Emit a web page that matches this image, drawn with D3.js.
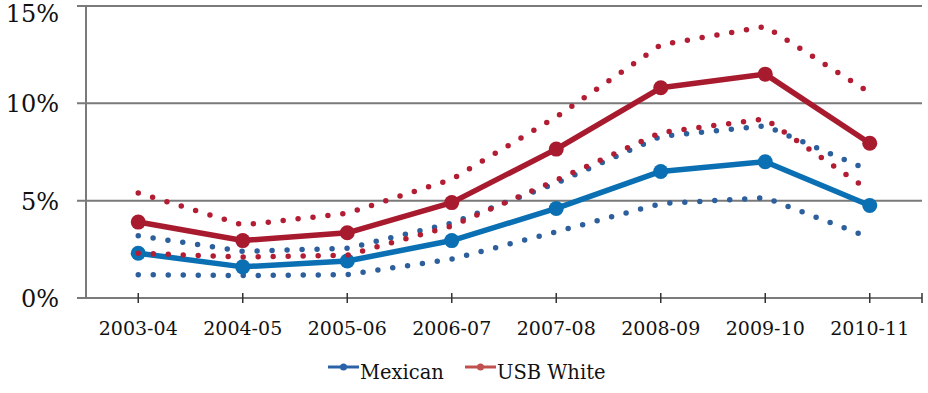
<!DOCTYPE html>
<html>
<head>
<meta charset="utf-8">
<script src="https://cdn.jsdelivr.net/npm/d3@7"></script>
<style>
  html, body { margin: 0; padding: 0; background: #fff; }
  svg { display: block; }
</style>
</head>
<body>
<svg id="chart" width="928" height="393"></svg>
<script>
// School years on the x axis
const years = ["2003-04", "2004-05", "2005-06", "2006-07", "2007-08", "2008-09", "2009-10", "2010-11"];

// Point estimates (percent)
const mexican   = [2.3, 1.6, 1.9, 2.95, 4.6, 6.5, 7.0, 4.75];
const usbWhite  = [3.9, 2.95, 3.35, 4.9, 7.65, 10.8, 11.5, 7.95];

// Confidence bounds (percent)
const mexicanHigh  = [3.2, 2.4, 2.55, 3.85, 5.9, 8.3, 8.85, 6.55];
const mexicanLow   = [1.2, 1.15, 1.2, 2.0, 3.4, 4.85, 5.15, 3.1];
const usbWhiteHigh = [5.4, 3.75, 4.35, 6.1, 9.3, 13.0, 13.95, 10.55];
const usbWhiteLow  = [2.3, 2.1, 2.2, 3.7, 6.05, 8.5, 9.2, 5.5];

// Axis ticks
const yTicks = [0, 5, 10, 15];

const serif = "DejaVu Serif, Liberation Serif, Times New Roman, Times, serif";
const svg = d3.select("#chart");
const plot = { left: 86, right: 922, top: 6, bottom: 298 };

const x = d3.scalePoint().domain(years).range([plot.left, plot.right]).padding(0.5);
const y = d3.scaleLinear().domain([0, 15]).range([plot.bottom, plot.top]);

const axisColor = "#7a7a7a";

// Horizontal gridlines (extend left past the axis as tick marks)
svg.append("g").selectAll("line").data(yTicks.filter(d => d > 0)).join("line")
  .attr("x1", plot.left - 9).attr("x2", plot.right)
  .attr("y1", d => y(d)).attr("y2", d => y(d))
  .attr("stroke", axisColor).attr("stroke-width", 2);

// Y axis labels (top label nudged down to stay inside the frame)
svg.append("g").selectAll("text").data(yTicks).join("text")
  .attr("x", 59).attr("y", d => Math.max(y(d) + 9, 22))
  .attr("text-anchor", "end")
  .style("font-family", serif)
  .style("font-size", "24px")
  .attr("fill", "#111")
  .text(d => d + "%");

// Y axis line and baseline
svg.append("line").attr("x1", plot.left).attr("x2", plot.left).attr("y1", plot.top).attr("y2", plot.bottom)
  .attr("stroke", axisColor).attr("stroke-width", 2);
svg.append("line").attr("x1", plot.left - 9).attr("x2", plot.right).attr("y1", plot.bottom).attr("y2", plot.bottom)
  .attr("stroke", axisColor).attr("stroke-width", 2);

// X axis cross ticks at categories and at the right end
const xTickPos = years.map(d => x(d)).concat([plot.right]);
svg.append("g").selectAll("line").data(xTickPos).join("line")
  .attr("x1", d => d).attr("x2", d => d)
  .attr("y1", plot.bottom - 5).attr("y2", plot.bottom + 5)
  .attr("stroke", "#333").attr("stroke-width", 1.5);

// X axis labels
svg.append("g").selectAll("text").data(years).join("text")
  .attr("x", d => x(d)).attr("y", 335)
  .attr("text-anchor", "middle")
  .style("font-family", serif)
  .style("font-size", "19px")
  .attr("fill", "#111")
  .text(d => d);

const line = d3.line().x((d, i) => x(years[i])).y(d => y(d));

function dotted(values, color) {
  svg.append("path").datum(values)
    .attr("d", line)
    .attr("fill", "none")
    .attr("stroke", color)
    .attr("stroke-width", 5.5)
    .attr("stroke-linecap", "round")
    .attr("stroke-dasharray", "0 15");
}

function solid(values, color) {
  svg.append("path").datum(values)
    .attr("d", line)
    .attr("fill", "none")
    .attr("stroke", color)
    .attr("stroke-width", 5.5)
    .attr("stroke-linejoin", "round");
  svg.append("g").selectAll("circle").data(values).join("circle")
    .attr("cx", (d, i) => x(years[i]))
    .attr("cy", d => y(d))
    .attr("r", 7.5)
    .attr("fill", color);
}

const blue = "#0a70b3", blueDot = "#2c5f9c";
const red = "#a81b2f", redDot = "#b31d34";

// Mexican series
dotted(mexicanHigh, blueDot);
dotted(mexicanLow, blueDot);
solid(mexican, blue);

// USB White series
dotted(usbWhiteHigh, redDot);
dotted(usbWhiteLow, redDot);
solid(usbWhite, red);

// Legend
const legend = [
  { name: "Mexican", color: "#2a62a8", x0: 328 },
  { name: "USB White", color: "#c0504d", x0: 465 }
];
const lg = svg.append("g").selectAll("g").data(legend).join("g");
lg.append("line")
  .attr("x1", d => d.x0).attr("x2", d => d.x0 + 31)
  .attr("y1", 367).attr("y2", 367)
  .attr("stroke", d => d.color).attr("stroke-width", 3);
lg.append("circle")
  .attr("cx", d => d.x0 + 15.5).attr("cy", 367).attr("r", 3.5)
  .attr("fill", d => d.color);
lg.append("text")
  .attr("x", d => d.x0 + 32).attr("y", 379)
  .style("font-family", serif)
  .style("font-size", "19.5px")
  .attr("fill", "#111")
  .text(d => d.name);
</script>
</body>
</html>
